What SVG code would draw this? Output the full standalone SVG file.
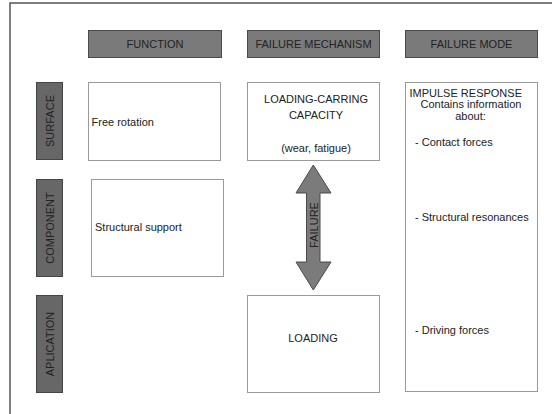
<svg xmlns="http://www.w3.org/2000/svg" width="552" height="414" viewBox="0 0 552 414">
<style>
text{font-family:"Liberation Sans",Arial,sans-serif;font-size:11px;fill:#222}
.hdr{fill:#7a7a7a;stroke:#4a4a4a;stroke-width:1}
.row{fill:#676767;stroke:#444;stroke-width:1}
.box{fill:#fff;stroke:#9a9a9a;stroke-width:1}
.c{text-anchor:middle}
</style>
<rect width="552" height="414" fill="#fff"/>
<path d="M10,414 V3 H552" fill="none" stroke="#555" stroke-width="1.5"/>
<g id="hdr-function"><rect class="hdr" x="88.5" y="30.5" width="133" height="27"/><text class="c" x="155" y="48">FUNCTION</text></g>
<g id="hdr-mechanism"><rect class="hdr" x="247.5" y="30.5" width="132" height="27"/><text class="c" x="313.5" y="48">FAILURE MECHANISM</text></g>
<g id="hdr-mode"><rect class="hdr" x="405.5" y="30.5" width="132" height="27"/><text class="c" x="471.5" y="48">FAILURE MODE</text></g>
<g id="row-surface"><rect class="row" x="36.5" y="82.5" width="26" height="77"/><text class="c" transform="translate(53.5,121) rotate(-90)">SURFACE</text></g>
<g id="row-component"><rect class="row" x="36.5" y="179.5" width="26" height="97"/><text class="c" transform="translate(53.5,228) rotate(-90)">COMPONENT</text></g>
<g id="row-application"><rect class="row" x="36.5" y="295.5" width="26" height="97"/><text class="c" transform="translate(53.5,344) rotate(-90)">APLICATION</text></g>
<g id="free-rotation"><rect class="box" x="88.5" y="82.5" width="132" height="78"/><text x="91.5" y="126">Free rotation</text></g>
<g id="structural-support"><rect class="box" x="91.5" y="179.5" width="132" height="97"/><text x="95" y="231">Structural support</text></g>
<g id="load-capacity"><rect class="box" x="247.5" y="82.5" width="132" height="78"/><text class="c" x="316" y="102.5">LOADING-CARRING</text><text class="c" x="316" y="118.5">CAPACITY</text><text class="c" x="316" y="152">(wear, fatigue)</text></g>
<g id="loading"><rect class="box" x="247.5" y="295.5" width="132" height="97"/><text class="c" x="313" y="342">LOADING</text></g>
<g id="impulse"><rect class="box" x="405.5" y="82.5" width="132" height="309"/>
<text x="409.5" y="96.5">IMPULSE RESPONSE</text>
<text x="420.5" y="108">Contains information</text>
<text class="c" x="470.5" y="119.5">about:</text>
<text x="415" y="145.5">- Contact forces</text>
<text x="415" y="221">- Structural resonances</text>
<text x="415" y="334">- Driving forces</text></g>
<g id="connectors"><g id="failure-arrow"><polygon points="313.3,165 331,193 320,193 320,262 331,262 313.3,290 296,262 306.5,262 306.5,193 296,193" fill="#7b7b7b" stroke="#4a4a4a" stroke-width="1"/><text class="c" transform="translate(317.5,225) rotate(-90)">FAILURE</text></g></g>
</svg>
